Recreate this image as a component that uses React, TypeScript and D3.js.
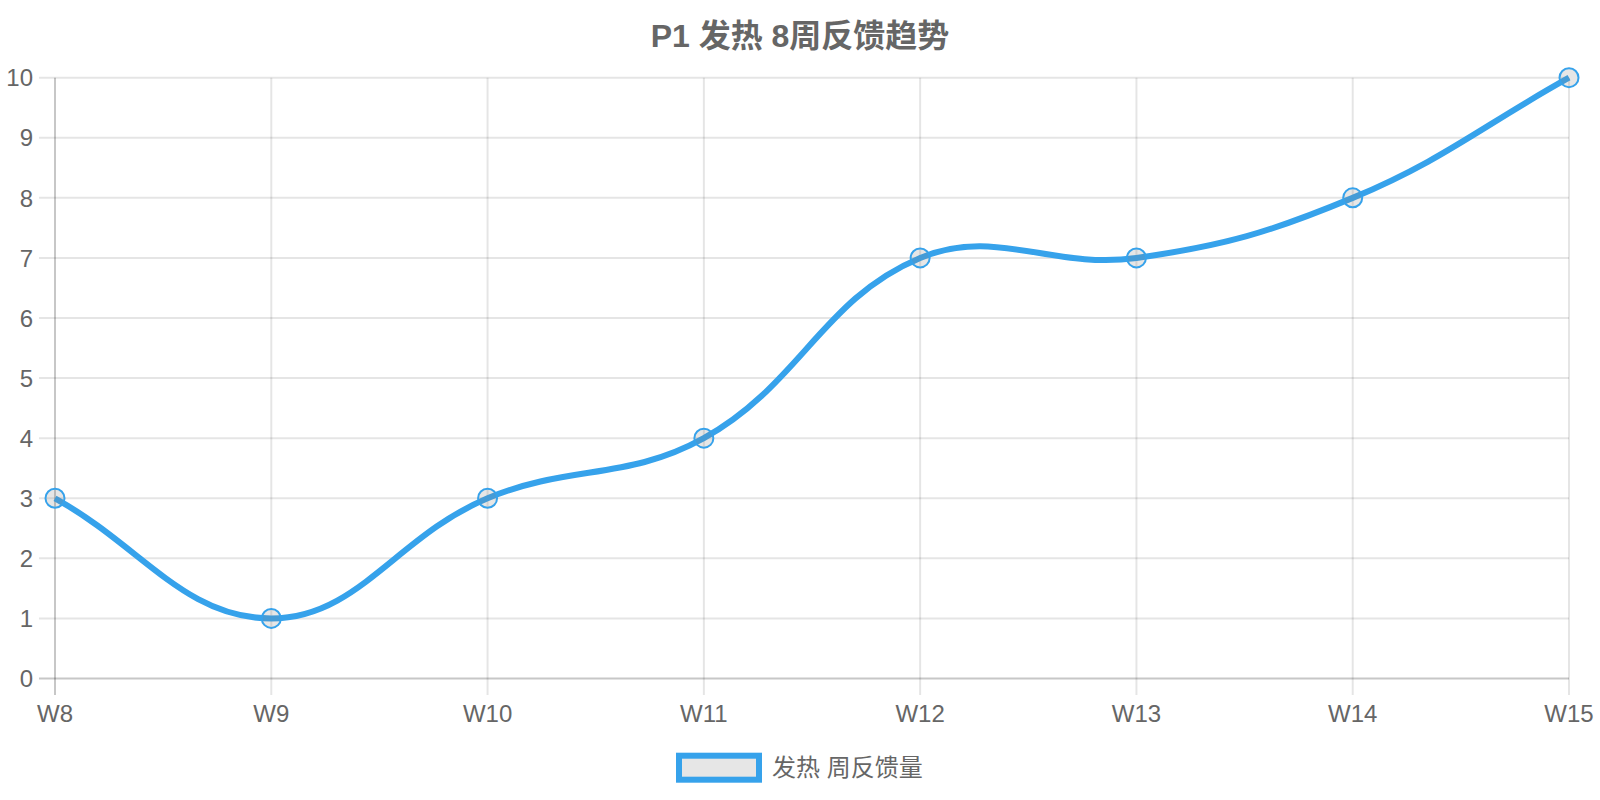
import * as d3 from "d3";

const weeks = ["W8", "W9", "W10", "W11", "W12", "W13", "W14", "W15"];
const counts = [3, 1, 3, 4, 7, 7, 8, 10];
const yTicks = [0, 1, 2, 3, 4, 5, 6, 7, 8, 9, 10];

const title = "P1 发热 8周反馈趋势";
const seriesLabel = "发热 周反馈量";

const W = 1600, H = 800;
const area = { left: 55, right: 1569, top: 77.7, bottom: 678.5 };
const BLUE = "rgb(54,162,235)";
const FILL = "rgba(128,128,128,0.2)";
const FONT = "'Liberation Sans', Arial, 'Noto Sans CJK SC', sans-serif";

type P = { x: number; y: number };

// Chart.js v2 style spline (tension 0.4) with control points capped to chart area
function splinePath(pts: P[], t = 0.4) {
  const clampX = (v: number) => Math.max(area.left, Math.min(area.right, v));
  const clampY = (v: number) => Math.max(area.top, Math.min(area.bottom, v));
  const cps = pts.map((cur, i) => {
    const prev = pts[i - 1] || cur, next = pts[i + 1] || cur;
    const d01 = Math.hypot(cur.x - prev.x, cur.y - prev.y);
    const d12 = Math.hypot(next.x - cur.x, next.y - cur.y);
    let s01 = d01 / (d01 + d12), s12 = d12 / (d01 + d12);
    if (isNaN(s01)) s01 = 0;
    if (isNaN(s12)) s12 = 0;
    const fa = t * s01, fb = t * s12;
    return {
      prev: { x: clampX(cur.x - fa * (next.x - prev.x)), y: clampY(cur.y - fa * (next.y - prev.y)) },
      next: { x: clampX(cur.x + fb * (next.x - prev.x)), y: clampY(cur.y + fb * (next.y - prev.y)) },
    };
  });
  const p = d3.path();
  pts.forEach((pt, i) => {
    if (i === 0) p.moveTo(pt.x, pt.y);
    else p.bezierCurveTo(cps[i - 1].next.x, cps[i - 1].next.y, cps[i].prev.x, cps[i].prev.y, pt.x, pt.y);
  });
  return p.toString();
}

export default function App() {
  const x = d3.scalePoint<string>().domain(weeks).range([area.left, area.right]);
  const y = d3.scaleLinear().domain([0, 10]).range([area.bottom, area.top]);
  const pts = weeks.map((w, i) => ({ x: x(w)!, y: y(counts[i]) }));

  return (
    <>
      <style>{`body{margin:0}`}</style>
      <svg width={W} height={H} style={{ display: "block", fontFamily: FONT }}>
        <rect width={W} height={H} fill="#fff" />
        <text x={W / 2} y={47} textAnchor="middle" fontSize={32} fontWeight="bold" fill="#666">{title}</text>

        {/* horizontal grid + y labels */}
        {yTicks.map((t) => (
          <g key={`y${t}`}>
            <line x1={39} x2={area.right} y1={y(t)} y2={y(t)} stroke={t === 0 ? "rgba(0,0,0,0.22)" : "rgba(0,0,0,0.1)"} strokeWidth={2} />
            <text x={33} y={y(t)} dy="0.36em" textAnchor="end" fontSize={24} fill="#666">{t}</text>
          </g>
        ))}
        {/* vertical grid + x labels */}
        {weeks.map((w, i) => (
          <g key={w}>
            <line x1={x(w)} x2={x(w)} y1={area.top} y2={695} stroke={i === 0 ? "rgba(0,0,0,0.22)" : "rgba(0,0,0,0.1)"} strokeWidth={2} />
            <text x={x(w)} y={722} textAnchor="middle" fontSize={24} fill="#666">{w}</text>
          </g>
        ))}

        {/* series line */}
        <path d={splinePath(pts)} fill="none" stroke={BLUE} strokeWidth={6} />
        {pts.map((p, i) => (
          <circle key={i} cx={p.x} cy={p.y} r={9.5} fill={FILL} stroke={BLUE} strokeWidth={2} />
        ))}

        {/* legend */}
        <rect x={679} y={755.7} width={80} height={24} fill={FILL} stroke={BLUE} strokeWidth={6} />
        <text x={772} y={767.7} dy="0.36em" fontSize={24} fill="#666">{seriesLabel}</text>
      </svg>
    </>
  );
}
